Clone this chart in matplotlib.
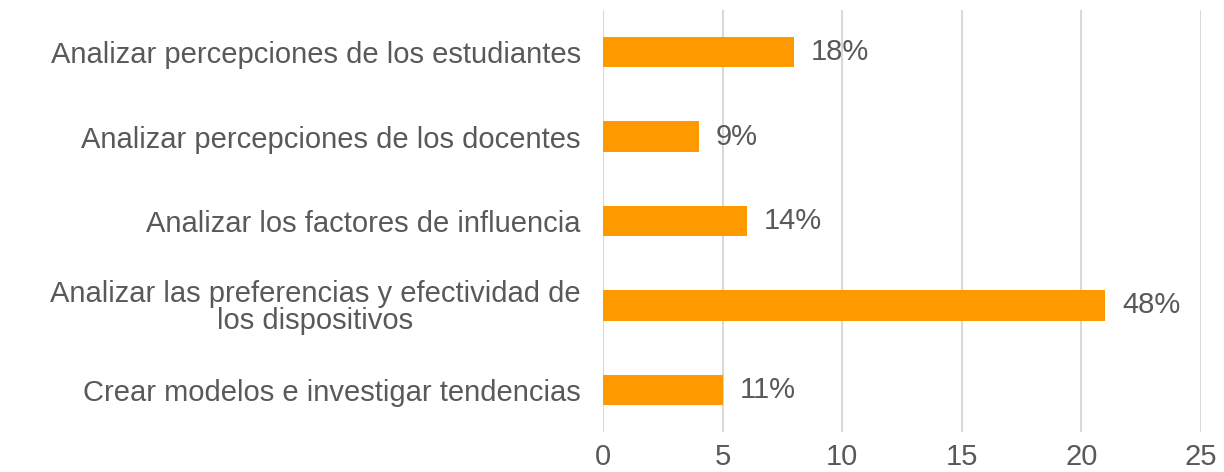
import matplotlib.pyplot as plt

plt.rcParams['font.family'] = ['Liberation Sans', 'DejaVu Sans']

categories = [
    'Analizar percepciones de los estudiantes',
    'Analizar percepciones de los docentes',
    'Analizar los factores de influencia',
    'Analizar las preferencias y efectividad de\nlos dispositivos',
    'Crear modelos e investigar tendencias',
]
counts = [8, 4, 6, 21, 5]
pct_labels = ['18%', '9%', '14%', '48%', '11%']

txt_color = '#595959'
fs = 21

fig = plt.figure(figsize=(12.24, 4.72), dpi=100)
ax = fig.add_axes([603 / 1224, 1 - 432 / 472, (1201 - 603) / 1224, 422 / 472])

y = list(range(len(categories)))
ax.barh(y, counts, height=0.36, color='#FF9900', zorder=3)

for yi, v, lab in zip(y, counts, pct_labels):
    ax.text(v + 0.7, yi, lab, va='center', ha='left', fontsize=fs, color=txt_color)

ax.set_xlim(0, 25)
ax.set_ylim(4.5, -0.5)
ax.set_xticks(range(0, 26, 5))
ax.set_yticks(y)
ax.set_yticklabels(categories, fontsize=fs, color=txt_color)
ax.tick_params(axis='x', labelsize=fs, labelcolor=txt_color, length=0, pad=8)
ax.tick_params(axis='y', length=0, pad=16)
for lbl in ax.get_yticklabels():
    lbl.set_multialignment('center')
    lbl.set_linespacing(0.95)

ax.grid(axis='x', color='#D9D9D9', linewidth=1.5, zorder=0)
for s in ax.spines.values():
    s.set_visible(False)

plt.savefig('out.png')
